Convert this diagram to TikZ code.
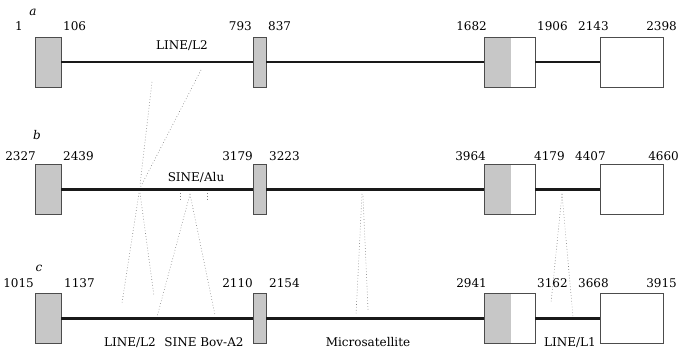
\documentclass[tikz,border=0pt]{standalone}
\usepackage{fontspec}
\setmainfont{DejaVu Serif}
\usetikzlibrary{patterns}
\begin{document}
\begin{tikzpicture}[x=1pt,y=-1pt,
  every node/.style={inner sep=0pt,font=\fontsize{12}{14}\selectfont},
  exon/.style={draw=black!70,line width=0.7pt,fill=black!22,minimum height=50pt},
  utr/.style={draw=black!70,line width=0.7pt,fill=white,minimum height=50pt,minimum width=63pt},
  half/.style={draw=black!70,line width=0.7pt,fill=white,minimum height=50pt,minimum width=51pt,
    path picture={\fill[black!22] (path picture bounding box.north west) rectangle ([xshift=27pt]path picture bounding box.south west);}},
  intron/.style={line width=2.4pt,black!90},
  rep/.style={black!50,line width=0.6pt,dash pattern=on 0.7pt off 2.2pt},
  lab/.style={anchor=base},
  numE/.style={anchor=base east},
  numW/.style={anchor=base west}]
\useasboundingbox (0,0) rectangle (682,352);

% ---- connectors between repeats (drawn first)
\coordinate (pa1) at (152,82);  \coordinate (pb1) at (140,185);
\coordinate (pa2) at (201,70);  \coordinate (pb2) at (140,188);
\draw[rep] (pa1) -- (pb1);
\draw[rep] (pa2) -- (pb2);
\coordinate (pb3) at (139,193); \coordinate (pc3) at (122,303);
\coordinate (pb4) at (140,193); \coordinate (pc4) at (154,296);
\draw[rep] (pb3) -- (pc3);
\draw[rep] (pb4) -- (pc4);
\coordinate (sb) at (190,194);
\coordinate (sc1) at (157,317); \coordinate (sc2) at (215,315);
\draw[rep] (sb) -- (sc1);
\draw[rep] (sb) -- (sc2);
\coordinate (tk1a) at (180,193); \coordinate (tk1b) at (180,199);
\coordinate (tk2a) at (207,193); \coordinate (tk2b) at (207,199);
\draw[rep] (tk1a) -- (tk1b);
\draw[rep] (tk2a) -- (tk2b);
\coordinate (mb1) at (362,194); \coordinate (mc1) at (356,315);
\coordinate (mb2) at (363,196); \coordinate (mc2) at (368,310);
\draw[rep] (mb1) -- (mc1);
\draw[rep] (mb2) -- (mc2);
\coordinate (lb) at (562,194);
\coordinate (lc1) at (551,303); \coordinate (lc2) at (573,317);
\draw[rep] (lb) -- (lc1);
\draw[rep] (lb) -- (lc2);

% ---- row a
\node[exon,minimum width=26pt] (a1) at (48,62) {};
\node[exon,minimum width=13pt] (a2) at (259.5,62) {};
\node[half] (a3) at (509.5,62) {};
\node[utr] (a4) at (631.5,62) {};
\draw[intron] (a1.east) -- (a2.west);
\draw[intron] (a2.east) -- (a3.west);
\draw[intron] (a3.east) -- (a4.west);
\node[lab] (la) at (33,16) {\itshape a};
\node[lab] (a1n) at (19,31) {1};
\node[numW] (a2n) at (63,31) {106};
\node[numE] (a3n) at (252,31) {793};
\node[numW] (a4n) at (268,31) {837};
\node[numE] (a5n) at (487,31) {1682};
\node[numW] (a6n) at (537,31) {1906};
\node[numW] (a7n) at (578,31) {2143};
\node[numE] (a8n) at (677,31) {2398};
\node[lab] (ar) at (182,50) {LINE/L2};

% ---- row b
\node[exon,minimum width=26pt] (b1) at (48,189.5) {};
\node[exon,minimum width=13pt] (b2) at (259.5,189.5) {};
\node[half] (b3) at (509.5,189.5) {};
\node[utr] (b4) at (631.5,189.5) {};
\draw[intron] (b1.east) -- (b2.west);
\draw[intron] (b2.east) -- (b3.west);
\draw[intron] (b3.east) -- (b4.west);
\node[lab] (lb) at (37,140) {\itshape b};
\node[numE] (b1n) at (36,161) {2327};
\node[numW] (b2n) at (63,161) {2439};
\node[numE] (b3n) at (253,161) {3179};
\node[numW] (b4n) at (269,161) {3223};
\node[numE] (b5n) at (486,161) {3964};
\node[numW] (b6n) at (534,161) {4179};
\node[numW] (b7n) at (575,161) {4407};
\node[numE] (b8n) at (679,161) {4660};
\node[lab] (br) at (196,182) {SINE/Alu};

% ---- row c
\node[exon,minimum width=26pt] (c1) at (48,318.5) {};
\node[exon,minimum width=13pt] (c2) at (259.5,318.5) {};
\node[half] (c3) at (509.5,318.5) {};
\node[utr] (c4) at (631.5,318.5) {};
\draw[intron] (c1.east) -- (c2.west);
\draw[intron] (c2.east) -- (c3.west);
\draw[intron] (c3.east) -- (c4.west);
\node[lab] (lc) at (39,272) {\itshape c};
\node[numE] (c1n) at (34,288) {1015};
\node[numW] (c2n) at (64,288) {1137};
\node[numE] (c3n) at (253,288) {2110};
\node[numW] (c4n) at (269,288) {2154};
\node[numE] (c5n) at (487,288) {2941};
\node[numW] (c6n) at (537,288) {3162};
\node[numW] (c7n) at (578,288) {3668};
\node[numE] (c8n) at (677,288) {3915};
\node[lab] (cr1) at (130,346) {LINE/L2};
\node[lab] (cr2) at (204,346) {SINE Bov-A2};
\node[lab] (cr3) at (368,346) {Microsatellite};
\node[lab] (cr4) at (570,346) {LINE/L1};
\end{tikzpicture}
\end{document}
